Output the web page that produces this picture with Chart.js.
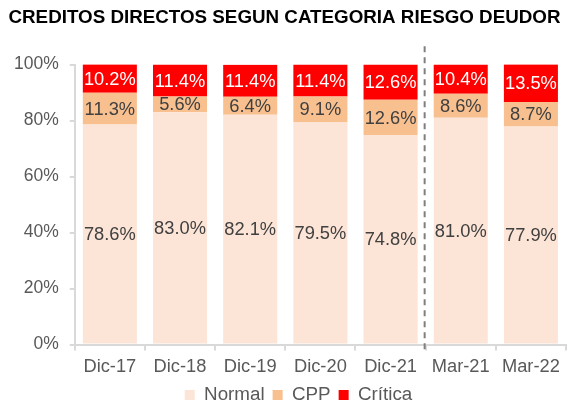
<!DOCTYPE html>
<html>
<head>
<meta charset="utf-8">
<script src="https://cdn.jsdelivr.net/npm/chart.js@4"></script>
<style>
  body { margin: 0; background: #fff; }
  #wrap { width: 577px; height: 403px; }
</style>
</head>
<body>
<div id="wrap"><canvas id="chart" width="577" height="403"></canvas></div>
<script>
const categories = ['Dic-17', 'Dic-18', 'Dic-19', 'Dic-20', 'Dic-21', 'Mar-21', 'Mar-22'];
const normalValues = [78.6, 83.0, 82.1, 79.5, 74.8, 81.0, 77.9];
const cppValues = [11.3, 5.6, 6.4, 9.1, 12.6, 8.6, 8.7];
const criticaValues = [10.2, 11.4, 11.4, 11.4, 12.6, 10.4, 13.5];
const yTicks = [0, 20, 40, 60, 80, 100];

const fontFam = '"Liberation Sans", Arial, sans-serif';

// etiquetas de valor dentro de cada segmento
const valueLabels = {
  id: 'valueLabels',
  afterDatasetsDraw(chart) {
    const ctx = chart.ctx;
    ctx.save();
    ctx.font = '18.3px ' + fontFam;
    ctx.textAlign = 'center';
    ctx.textBaseline = 'middle';
    chart.data.datasets.forEach((ds, i) => {
      const meta = chart.getDatasetMeta(i);
      meta.data.forEach((bar, j) => {
        const yMid = (bar.y + bar.base) / 2;
        ctx.fillStyle = ds.labelColor;
        ctx.fillText(ds.data[j].toFixed(1) + '%', bar.x, yMid + 1);
      });
    });
    ctx.restore();
  }
};

// linea punteada que separa anual de trimestral
const separator = {
  id: 'separator',
  afterDatasetsDraw(chart) {
    const x = chart.scales.x;
    const y = chart.scales.y;
    const px = (x.getPixelForValue(4) + x.getPixelForValue(5)) / 2 - 1;
    const ctx = chart.ctx;
    ctx.save();
    ctx.strokeStyle = '#7f7f7f';
    ctx.lineWidth = 2;
    ctx.setLineDash([6, 5]);
    ctx.beginPath();
    ctx.moveTo(px, y.getPixelForValue(106.5));
    ctx.lineTo(px, y.getPixelForValue(0) + 6);
    ctx.stroke();
    ctx.restore();
  }
};

// leyenda un poco a la derecha, como en el original
const legendShift = {
  id: 'legendShift',
  afterLayout(chart) {
    chart.legend.left += 14;
    chart.legend.right += 14;
  }
};

let ctx = document.getElementById('chart').getContext('2d');

new Chart(ctx, {
  type: 'bar',
  data: {
    labels: categories,
    datasets: [
      { label: 'Normal', data: normalValues, backgroundColor: '#FCE4D6', labelColor: '#404040' },
      { label: 'CPP', data: cppValues, backgroundColor: '#F8BF8F', labelColor: '#404040' },
      { label: 'Crítica', data: criticaValues, backgroundColor: '#FF0000', labelColor: '#ffffff' }
    ]
  },
  options: {
    responsive: false,
    animation: false,
    devicePixelRatio: 1,
    layout: { padding: { left: 3, right: 11, top: 0, bottom: 0 } },
    datasets: { bar: { categoryPercentage: 0.77, barPercentage: 1 } },
    plugins: {
      title: {
        display: true,
        text: 'CREDITOS DIRECTOS SEGUN CATEGORIA RIESGO DEUDOR',
        color: '#000',
        font: { family: fontFam, size: 18.8, weight: 'bold' },
        padding: { top: 7, bottom: 35 }
      },
      legend: {
        position: 'bottom',
        maxHeight: 25.5,
        labels: {
          color: '#595959',
          boxWidth: 10,
          boxHeight: 10,
          padding: 8,
          font: { family: fontFam, size: 18.8 }
        }
      },
      tooltip: { enabled: false }
    },
    scales: {
      x: {
        stacked: true,
        afterFit(scale) { scale.height -= 5; },
        grid: { drawOnChartArea: false, color: '#d9d9d9', lineWidth: 2, tickLength: 6 },
        border: { color: '#d9d9d9', width: 2 },
        ticks: {
          color: '#595959',
          padding: 5,
          font: { family: fontFam, size: 18.3 }
        }
      },
      y: {
        stacked: true,
        min: 0,
        max: 100,
        afterBuildTicks(scale) { scale.ticks = yTicks.map(v => ({ value: v })); },
        grid: { display: true, drawOnChartArea: false, color: '#d9d9d9', lineWidth: 2, tickLength: 5 },
        border: { color: '#d9d9d9', width: 2 },
        ticks: {
          color: '#595959',
          padding: 11,
          callback: v => v + '%',
          font: { family: fontFam, size: 17.5 }
        }
      }
    }
  },
  plugins: [valueLabels, separator, legendShift]
});
</script>
</body>
</html>
